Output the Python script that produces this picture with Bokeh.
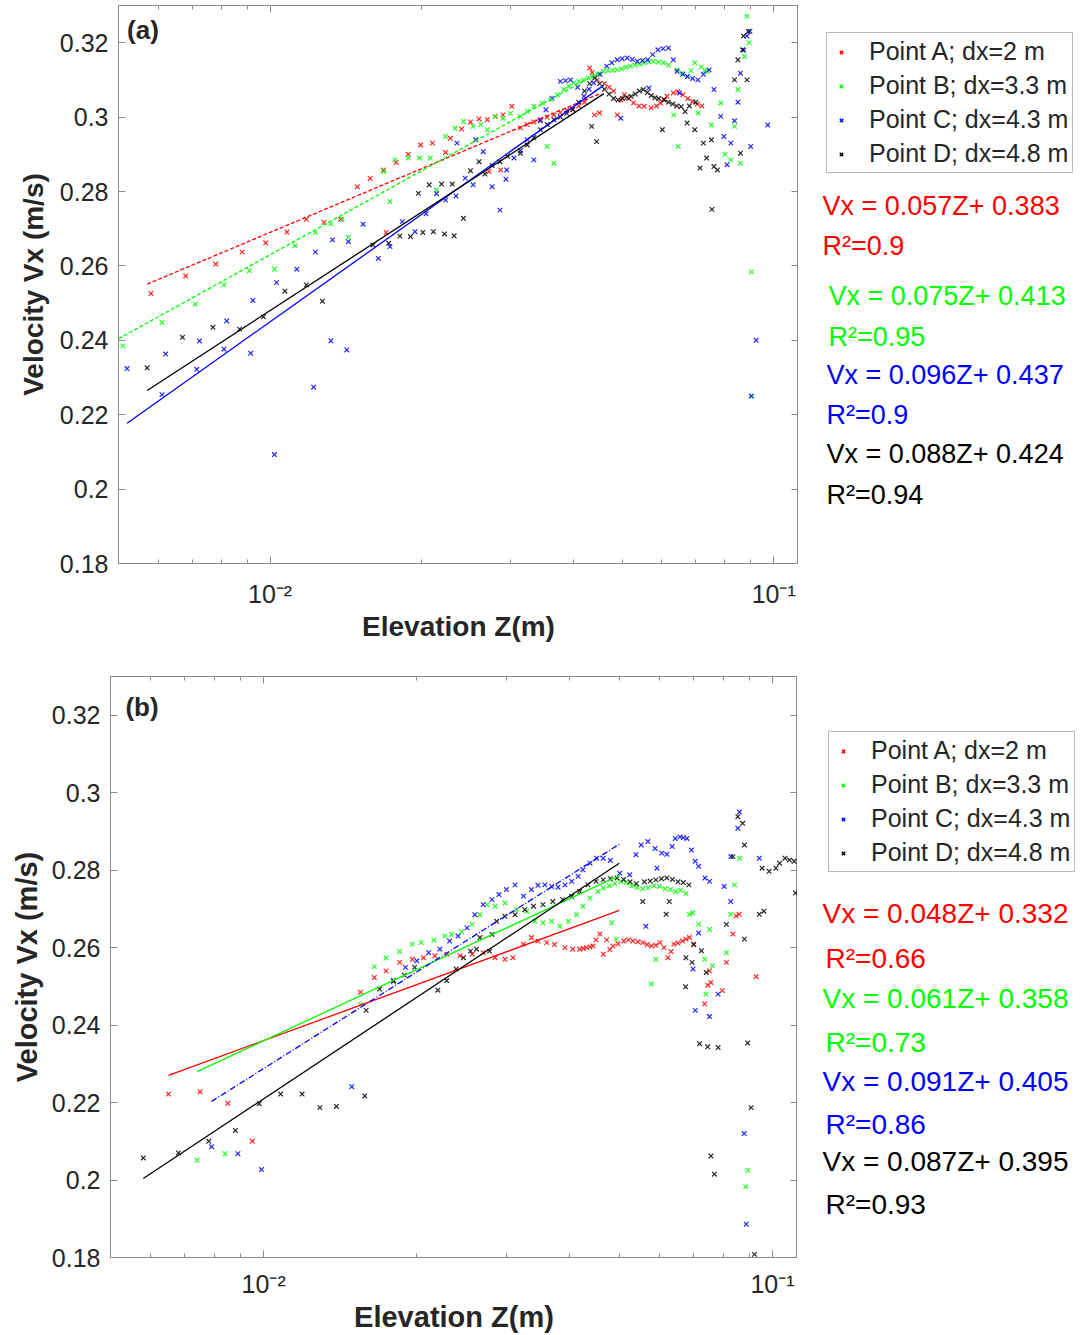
from bokeh.plotting import figure
from bokeh.models import (Range1d, FixedTicker, LogAxis, LinearAxis,
                          CustomJSTickFormatter, Legend, LegendItem, Label)
from bokeh.layouts import column, row
from bokeh.core.properties import value
from bokeh.embed import file_html
from bokeh.resources import INLINE

FONT = "Liberation Sans"
AX_COLOR = "#8a8a8a"
TXT_COLOR = "#262626"
COLORS = ["#ff0000", "#00ff00", "#0000ff", "#000000"]
SERIES_LABELS = ["Point A; dx=2 m", "Point B; dx=3.3 m", "Point C; dx=4.3 m", "Point D; dx=4.8 m"]

Z_LIMITS = [0.005, 0.112]
V_LIMITS = [0.18, 0.33]
X_MAJOR = [0.01, 0.1]
X_TICK_LABELS = ["10\u207b\u00b2", "10\u207b\u00b9"]
X_MINOR = [0.005, 0.006, 0.007, 0.008, 0.009, 0.02, 0.03, 0.04, 0.05, 0.06, 0.07, 0.08, 0.09]
Y_TICKS = [0.18, 0.2, 0.22, 0.24, 0.26, 0.28, 0.3, 0.32]
Y_TICK_LABELS = ["0.18", "0.2", "0.22", "0.24", "0.26", "0.28", "0.3", "0.32"]

# ---------------- panel (a) ----------------
a_red_z = [0.0058, 0.0068, 0.0078, 0.0088, 0.0098, 0.0108, 0.0118, 0.0128, 0.0138, 0.0149,
           0.0158, 0.0168, 0.0170, 0.0178, 0.0188, 0.0199, 0.0210, 0.0223, 0.0228, 0.0240,
           0.0250, 0.0260, 0.0270, 0.0272, 0.0280, 0.0287, 0.0290, 0.0302, 0.0314, 0.0324,
           0.0334, 0.0344, 0.0355, 0.0366, 0.0377, 0.0388, 0.0399, 0.0410, 0.0421, 0.0431,
           0.0436, 0.0441, 0.0446, 0.0451, 0.0461, 0.0471, 0.0481, 0.0489, 0.0497, 0.0505,
           0.0515, 0.0527, 0.0540, 0.0553, 0.0571, 0.0585, 0.0596, 0.0605, 0.0614, 0.0632,
           0.0645, 0.0660, 0.0675, 0.0690, 0.0705, 0.0720]
a_red_v = [0.2526, 0.2573, 0.2605, 0.2637, 0.2662, 0.2691, 0.2725, 0.2717, 0.2725, 0.2813,
           0.2835, 0.2858, 0.2690, 0.2878, 0.2900, 0.2925, 0.2930, 0.2905, 0.2943, 0.2968,
           0.2987, 0.2995, 0.2993, 0.2854, 0.3002, 0.2858, 0.3006, 0.3029, 0.2971, 0.2980,
           0.2987, 0.2993, 0.3000, 0.3006, 0.3012, 0.3018, 0.3022, 0.3030, 0.3040, 0.3132,
           0.3120, 0.3006, 0.3100, 0.3011, 0.3090, 0.3080, 0.3070, 0.3006, 0.3046, 0.3060,
           0.3050, 0.3038, 0.3030, 0.3029, 0.3025, 0.3030, 0.3038, 0.3048, 0.3056, 0.3065,
           0.3068, 0.3060, 0.3050, 0.3042, 0.3035, 0.3030]

a_green_z = [0.0051, 0.0061, 0.0071, 0.0081, 0.0091, 0.0102, 0.0112, 0.0123, 0.0132, 0.0139,
             0.0143, 0.0168, 0.0173, 0.0177, 0.0188, 0.0198, 0.0208, 0.0214, 0.0223, 0.0233,
             0.0242, 0.0253, 0.0262, 0.0270, 0.0280, 0.0290, 0.0300, 0.0314, 0.0324, 0.0334,
             0.0347, 0.0355, 0.0361, 0.0366, 0.0372, 0.0383, 0.0392, 0.0401, 0.0410, 0.0419,
             0.0429, 0.0439, 0.0449, 0.0459, 0.0469, 0.0479, 0.0489, 0.0499, 0.0509, 0.0519,
             0.0530, 0.0541, 0.0552, 0.0565, 0.0577, 0.0590, 0.0604, 0.0618, 0.0633, 0.0643,
             0.0646, 0.0658, 0.0674, 0.0685, 0.0697, 0.0708, 0.0718, 0.0730, 0.0740, 0.0752,
             0.0785, 0.0800, 0.0822, 0.0836, 0.0849, 0.0859, 0.0875, 0.0885, 0.0893, 0.0903,
             0.0905]
a_green_v = [0.2385, 0.2448, 0.2497, 0.2549, 0.2587, 0.2591, 0.2654, 0.2690, 0.2713, 0.2725,
             0.2677, 0.2854, 0.2773, 0.2885, 0.2890, 0.2890, 0.2890, 0.2804, 0.2948, 0.2970,
             0.2988, 0.2975, 0.2980, 0.2966, 0.3002, 0.2997, 0.3010, 0.3002, 0.3015, 0.3029,
             0.3038, 0.2921, 0.3047, 0.2876, 0.3060, 0.3074, 0.3083, 0.3092, 0.3096, 0.3100,
             0.3105, 0.3109, 0.3116, 0.3123, 0.3125, 0.3126, 0.3127, 0.3130, 0.3134, 0.3137,
             0.3140, 0.3143, 0.3146, 0.3148, 0.3150, 0.3148, 0.3146, 0.3140, 0.3006, 0.3127,
             0.2921, 0.3118, 0.3109, 0.3125, 0.3146, 0.3011, 0.3135, 0.3125, 0.3123, 0.2979,
             0.3038, 0.2900, 0.2885, 0.2975, 0.3074, 0.2876, 0.3163, 0.3271, 0.3200, 0.2584,
             0.2250]

a_blue_z = [0.0052, 0.0061, 0.0062, 0.00715, 0.00724, 0.0081, 0.0082, 0.00915, 0.00924, 0.0102,
            0.0103, 0.0113, 0.0122, 0.0123, 0.0132, 0.0133, 0.0142, 0.0143, 0.0153, 0.0164,
            0.0173, 0.0183, 0.0194, 0.0204, 0.0214, 0.0223, 0.0234, 0.0235, 0.0244, 0.0253,
            0.0256, 0.0265, 0.0276, 0.0286, 0.0294, 0.0295, 0.0305, 0.0314, 0.0324, 0.0334,
            0.0344, 0.0353, 0.0363, 0.0377, 0.0386, 0.0395, 0.0408, 0.0420, 0.0430, 0.0439,
            0.0452, 0.0466, 0.0477, 0.0489, 0.0497, 0.0500, 0.0512, 0.0524, 0.0536, 0.0549,
            0.0562, 0.0565, 0.0575, 0.0589, 0.0603, 0.0618, 0.0632, 0.0643, 0.0650, 0.0660,
            0.0674, 0.0690, 0.0707, 0.0725, 0.0744, 0.0761, 0.0785, 0.0796, 0.0808, 0.0822,
            0.0836, 0.0849, 0.0859, 0.0872, 0.0885, 0.0897, 0.0900, 0.0923, 0.0902, 0.0973]
a_blue_v = [0.2324, 0.2254, 0.2363, 0.2322, 0.2398, 0.2376, 0.2452, 0.2365, 0.2507, 0.2093,
            0.2555, 0.2591, 0.2274, 0.2637, 0.2399, 0.2670, 0.2374, 0.2665, 0.2712, 0.2620,
            0.2652, 0.2719, 0.2692, 0.2740, 0.2794, 0.2777, 0.2788, 0.2930, 0.2836, 0.2818,
            0.2939, 0.2907, 0.2813, 0.2750, 0.2833, 0.2858, 0.2890, 0.2910, 0.2939, 0.2885,
            0.2990, 0.3020, 0.3051, 0.3096, 0.3098, 0.3100, 0.3080, 0.3056, 0.3075, 0.3092,
            0.3115, 0.3137, 0.3146, 0.3154, 0.2997, 0.3157, 0.3159, 0.3155, 0.3150, 0.3152,
            0.3154, 0.3078, 0.3168, 0.3181, 0.3184, 0.3186, 0.3154, 0.3123, 0.3065, 0.3115,
            0.3109, 0.3104, 0.3100, 0.3115, 0.3127, 0.3074, 0.3002, 0.2948, 0.2872, 0.2930,
            0.2990, 0.3040, 0.3118, 0.3180, 0.3218, 0.3231, 0.2921, 0.2400, 0.2250, 0.2979]

a_black_z = [0.0057, 0.0067, 0.0077, 0.0087, 0.0097, 0.0107, 0.0118, 0.0127, 0.0160, 0.0172,
             0.0181, 0.0190, 0.0201, 0.0211, 0.0222, 0.0232, 0.0242, 0.0197, 0.0207, 0.0219,
             0.0230, 0.0250, 0.0260, 0.0267, 0.0276, 0.0286, 0.0296, 0.0314, 0.0324, 0.0334,
             0.0344, 0.0355, 0.0366, 0.0377, 0.0388, 0.0399, 0.0410, 0.0421, 0.0431, 0.0435,
             0.0441, 0.0445, 0.0451, 0.0461, 0.0471, 0.0481, 0.0491, 0.0501, 0.0511, 0.0521,
             0.0531, 0.0541, 0.0551, 0.0561, 0.0571, 0.0581, 0.0591, 0.0601, 0.0606, 0.0618,
             0.0630, 0.0642, 0.0655, 0.0667, 0.0673, 0.0680, 0.0697, 0.0700, 0.0714, 0.0725,
             0.0736, 0.0752, 0.0754, 0.0761, 0.0773, 0.0836, 0.0849, 0.0859, 0.0867, 0.0871,
             0.0885, 0.0890]
a_black_v = [0.2326, 0.2408, 0.2435, 0.2430, 0.2463, 0.2532, 0.2549, 0.2505, 0.2656, 0.2661,
             0.2680, 0.2679, 0.2690, 0.2692, 0.2686, 0.2681, 0.2728, 0.2795, 0.2818, 0.2820,
             0.2820, 0.2856, 0.2880, 0.2847, 0.2870, 0.2880, 0.2895, 0.2903, 0.2925, 0.2945,
             0.2966, 0.2980, 0.2993, 0.3000, 0.3010, 0.3020, 0.3040, 0.3070, 0.3090, 0.2975,
             0.3105, 0.2934, 0.3090, 0.3075, 0.3062, 0.3050, 0.3046, 0.3050, 0.3053, 0.3056,
             0.3062, 0.3070, 0.3074, 0.3066, 0.3058, 0.3052, 0.3050, 0.2966, 0.3046, 0.3040,
             0.3035, 0.3030, 0.3028, 0.3015, 0.2984, 0.3030, 0.2966, 0.3040, 0.2863, 0.2930,
             0.2890, 0.2939, 0.2752, 0.2867, 0.2858, 0.3100, 0.3154, 0.2903, 0.3181, 0.3218,
             0.3100, 0.3230]

# fitted lines, panel (a): end points (Z, Vx)
fit_a_z0 = [0.0057, 0.0050, 0.0052, 0.0057]
fit_a_z1 = [0.045, 0.045, 0.046, 0.046]
fit_a_v0 = [0.2551, 0.2404, 0.2177, 0.2265]
fit_a_v1 = [0.3062, 0.3120, 0.3086, 0.3063]

eq_a = ["Vx = 0.057Z+ 0.383", "Vx = 0.075Z+ 0.413", "Vx = 0.096Z+ 0.437", "Vx = 0.088Z+ 0.424"]
r2_a = ["R\u00b2=0.9", "R\u00b2=0.95", "R\u00b2=0.9", "R\u00b2=0.94"]

# ---------------- panel (b) ----------------
b_red_z = [0.0065, 0.0075, 0.0085, 0.0095, 0.0155, 0.0165, 0.0174, 0.0185, 0.0196, 0.0206,
           0.0217, 0.0229, 0.0243, 0.0257, 0.0270, 0.0285, 0.0298, 0.0309, 0.0324, 0.0336,
           0.0346, 0.0360, 0.0373, 0.0391, 0.0405, 0.0418, 0.0425, 0.0431, 0.0438, 0.0444,
           0.0450, 0.0458, 0.0465, 0.0472, 0.0479, 0.0486, 0.0497, 0.0510, 0.0521, 0.0532,
           0.0544, 0.0556, 0.0567, 0.0578, 0.0590, 0.0601, 0.0612, 0.0623, 0.0632, 0.0640,
           0.0652, 0.0665, 0.0676, 0.0687, 0.0700, 0.0736, 0.0746, 0.0752, 0.0757, 0.0797,
           0.0812, 0.0836, 0.0848, 0.0860, 0.0929]
b_red_v = [0.2222, 0.2228, 0.2198, 0.2100, 0.2485, 0.2523, 0.2540, 0.2562, 0.2570, 0.2574,
           0.2579, 0.2583, 0.2579, 0.2583, 0.2587, 0.2574, 0.2570, 0.2574, 0.2609, 0.2626,
           0.2617, 0.2613, 0.2608, 0.2600, 0.2596, 0.2596, 0.2598, 0.2600, 0.2602, 0.2604,
           0.2620, 0.2635, 0.2583, 0.2620, 0.2595, 0.2604, 0.2610, 0.2617, 0.2620, 0.2617,
           0.2615, 0.2613, 0.2608, 0.2604, 0.2606, 0.2613, 0.2600, 0.2574, 0.2590, 0.2609,
           0.2612, 0.2617, 0.2622, 0.2626, 0.2609, 0.2455, 0.2503, 0.2540, 0.2510, 0.2489,
           0.2562, 0.2635, 0.2682, 0.2686, 0.2525]

b_green_z = [0.0074, 0.0084, 0.0155, 0.0165, 0.0174, 0.0185, 0.0196, 0.0204, 0.0216, 0.0227,
             0.0234, 0.0245, 0.0257, 0.0266, 0.0275, 0.0285, 0.0298, 0.0314, 0.0329, 0.0341,
             0.0354, 0.0368, 0.0382, 0.0397, 0.0412, 0.0424, 0.0438, 0.0454, 0.0465, 0.0478,
             0.0483, 0.0490, 0.0493, 0.0503, 0.0516, 0.0529, 0.0542, 0.0556, 0.0570, 0.0578,
             0.0585, 0.0590, 0.0600, 0.0615, 0.0630, 0.0645, 0.0660, 0.0676, 0.0687, 0.0697,
             0.0716, 0.0736, 0.0740, 0.0752, 0.0762, 0.0812, 0.0828, 0.0842, 0.0861, 0.0886,
             0.0894]
b_green_v = [0.2051, 0.2068, 0.2453, 0.2551, 0.2573, 0.2590, 0.2609, 0.2613, 0.2619, 0.2630,
             0.2634, 0.2641, 0.2660, 0.2685, 0.2711, 0.2707, 0.2715, 0.2698, 0.2694, 0.2668,
             0.2664, 0.2668, 0.2655, 0.2668, 0.2685, 0.2707, 0.2728, 0.2745, 0.2754, 0.2760,
             0.2664, 0.2765, 0.2622, 0.2770, 0.2768, 0.2760, 0.2755, 0.2752, 0.2755, 0.2506,
             0.2760, 0.2570, 0.2758, 0.2752, 0.2750, 0.2745, 0.2748, 0.2740, 0.2686, 0.2690,
             0.2660, 0.2570, 0.2480, 0.2647, 0.2553, 0.2587, 0.2686, 0.2762, 0.2831, 0.1983,
             0.2025]

b_blue_z = [0.0079, 0.0089, 0.0099, 0.0149, 0.0180, 0.0190, 0.0200, 0.0211, 0.0222, 0.0232,
            0.0241, 0.0251, 0.0260, 0.0270, 0.0281, 0.0290, 0.0300, 0.0312, 0.0324, 0.0336,
            0.0346, 0.0357, 0.0368, 0.0379, 0.0391, 0.0403, 0.0415, 0.0424, 0.0438, 0.0451,
            0.0465, 0.0480, 0.0501, 0.0524, 0.0539, 0.0552, 0.0564, 0.0569, 0.0588, 0.0593,
            0.0606, 0.0620, 0.0635, 0.0644, 0.0658, 0.0668, 0.0679, 0.0693, 0.0698, 0.0705,
            0.0705, 0.0716, 0.0716, 0.0737, 0.0752, 0.0752, 0.0782, 0.0804, 0.0828, 0.0828,
            0.0855, 0.0861, 0.0880, 0.0888, 0.0942]
b_blue_v = [0.2086, 0.2068, 0.2027, 0.2241, 0.2515, 0.2549, 0.2566, 0.2587, 0.2596, 0.2617,
            0.2630, 0.2651, 0.2685, 0.2711, 0.2724, 0.2737, 0.2750, 0.2762, 0.2733, 0.2750,
            0.2761, 0.2762, 0.2758, 0.2756, 0.2762, 0.2771, 0.2784, 0.2801, 0.2818, 0.2831,
            0.2831, 0.2825, 0.2792, 0.2788, 0.2840, 0.2865, 0.2655, 0.2874, 0.2856, 0.2805,
            0.2844, 0.2841, 0.2861, 0.2882, 0.2886, 0.2884, 0.2882, 0.2852, 0.2545, 0.2823,
            0.2438, 0.2810, 0.2638, 0.2780, 0.2771, 0.2422, 0.2480, 0.2758, 0.2719, 0.2835,
            0.2908, 0.2950, 0.2120, 0.1886, 0.2831]

b_black_z = [0.0058, 0.0068, 0.0078, 0.0088, 0.0098, 0.0108, 0.0119, 0.0129, 0.0139, 0.0158,
             0.0159, 0.0169, 0.0180, 0.0189, 0.0198, 0.0220, 0.0229, 0.0239, 0.0247, 0.0255,
             0.0262, 0.0266, 0.0278, 0.0281, 0.0287, 0.0298, 0.0312, 0.0326, 0.0339, 0.0354,
             0.0370, 0.0387, 0.0403, 0.0418, 0.0434, 0.0450, 0.0465, 0.0480, 0.0495, 0.0510,
             0.0525, 0.0540, 0.0556, 0.0560, 0.0575, 0.0590, 0.0605, 0.0618, 0.0620, 0.0627,
             0.0636, 0.0652, 0.0668, 0.0675, 0.0676, 0.0685, 0.0695, 0.0700, 0.0719, 0.0725,
             0.0741, 0.0746, 0.0757, 0.0769, 0.0782, 0.0812, 0.0836, 0.0855, 0.0874, 0.0881,
             0.0881, 0.0894, 0.0908, 0.0922, 0.0942, 0.0954, 0.0962, 0.0985, 0.1016, 0.1033,
             0.1058, 0.1080, 0.1103, 0.1110]
b_black_v = [0.2057, 0.2070, 0.2100, 0.2128, 0.2197, 0.2222, 0.2222, 0.2187, 0.2190, 0.2217,
             0.2438, 0.2493, 0.2513, 0.2529, 0.2549, 0.2490, 0.2515, 0.2545, 0.2574, 0.2591,
             0.2596, 0.2626, 0.2591, 0.2634, 0.2668, 0.2681, 0.2685, 0.2698, 0.2707, 0.2711,
             0.2719, 0.2724, 0.2732, 0.2745, 0.2762, 0.2771, 0.2775, 0.2778, 0.2780, 0.2776,
             0.2770, 0.2765, 0.2719, 0.2770, 0.2772, 0.2775, 0.2778, 0.2686, 0.2780, 0.2719,
             0.2776, 0.2770, 0.2768, 0.2499, 0.2574, 0.2762, 0.2562, 0.2608, 0.2352, 0.2592,
             0.2536, 0.2344, 0.2062, 0.2015, 0.2342, 0.2660, 0.2835, 0.2938, 0.2921, 0.2865,
             0.2622, 0.2354, 0.2187, 0.1808, 0.2686, 0.2805, 0.2694, 0.2797, 0.2805, 0.2818,
             0.2831, 0.2826, 0.2823, 0.2741]

fit_b_z0 = [0.0065, 0.0074, 0.0079, 0.0058]
fit_b_z1 = [0.050, 0.050, 0.050, 0.050]
fit_b_v0 = [0.2270, 0.2280, 0.2203, 0.2004]
fit_b_v1 = [0.2696, 0.2786, 0.2867, 0.2818]

eq_b = ["Vx = 0.048Z+ 0.332", "Vx = 0.061Z+ 0.358", "Vx = 0.091Z+ 0.405", "Vx = 0.087Z+ 0.395"]
r2_b = ["R\u00b2=0.66", "R\u00b2=0.73", "R\u00b2=0.86", "R\u00b2=0.93"]

X_LABEL = "Elevation Z(m)"
Y_LABEL = "Velocity Vx (m/s)"


def label_formatter(tick_values, tick_labels):
    code = """
    for (let i = 0; i < tv.length; i++) {
        if (Math.abs(tick - tv[i]) <= 1e-6 * Math.abs(tv[i])) { return labs[i]; }
    }
    return '';
    """
    return CustomJSTickFormatter(args=dict(tv=tick_values, labs=tick_labels), code=code)


def style_axis(ax, tick_px, show=True, standoff=10):
    ax.axis_line_color = AX_COLOR
    ax.major_tick_line_color = AX_COLOR
    ax.minor_tick_line_color = AX_COLOR
    ax.major_tick_in = 7
    ax.major_tick_out = 0
    ax.minor_tick_in = 4
    ax.minor_tick_out = 0
    ax.major_label_text_font = FONT
    ax.major_label_text_color = TXT_COLOR
    ax.major_label_text_font_size = tick_px if show else "0px"
    ax.major_label_standoff = standoff if show else 0


def build_main(series_z, series_v, fz0, fz1, fv0, fv1, dashes, tag, tag_x, tag_y,
               left, top, frame_w, frame_h, bottom, tick_px, label_px, x_standoff, ylab_standoff):
    p = figure(width=left + frame_w, height=top + frame_h + bottom,
               x_axis_type="log",
               x_range=Range1d(Z_LIMITS[0], Z_LIMITS[1]),
               y_range=Range1d(V_LIMITS[0], V_LIMITS[1]),
               output_backend="svg", toolbar_location=None,
               min_border_left=left, min_border_right=0,
               min_border_top=top, min_border_bottom=bottom)
    p.grid.visible = False
    p.outline_line_color = AX_COLOR
    p.background_fill_color = "white"
    p.border_fill_color = "white"

    xt = FixedTicker(ticks=X_MAJOR, minor_ticks=X_MINOR)
    yt = FixedTicker(ticks=Y_TICKS)
    blank = CustomJSTickFormatter(code="return '';")

    xax = p.xaxis[0]
    xax.ticker = xt
    xax.formatter = label_formatter(X_MAJOR, X_TICK_LABELS)
    style_axis(xax, tick_px, True, x_standoff)
    xax.axis_label = X_LABEL
    xax.axis_label_text_font = FONT
    xax.axis_label_text_font_style = "bold"
    xax.axis_label_text_font_size = label_px
    xax.axis_label_text_color = TXT_COLOR
    xax.axis_label_standoff = 0

    yax = p.yaxis[0]
    yax.ticker = yt
    yax.formatter = label_formatter(Y_TICKS, Y_TICK_LABELS)
    style_axis(yax, tick_px, True, 10)
    yax.axis_label = Y_LABEL
    yax.axis_label_text_font = FONT
    yax.axis_label_text_font_style = "bold"
    yax.axis_label_text_font_size = label_px
    yax.axis_label_text_color = TXT_COLOR
    yax.axis_label_standoff = ylab_standoff

    top_ax = LogAxis(ticker=xt, formatter=blank)
    style_axis(top_ax, tick_px, False)
    p.add_layout(top_ax, "above")
    right_ax = LinearAxis(ticker=yt, formatter=blank)
    style_axis(right_ax, tick_px, False)
    p.add_layout(right_ax, "right")

    for z, v, c in zip(series_z, series_v, COLORS):
        assert len(z) == len(v)
        p.scatter(x=z, y=v, marker="x", size=6.5, line_color=c, line_width=1.2, line_alpha=0.85)

    for i, c in enumerate(COLORS):
        p.line(x=[fz0[i], fz1[i]], y=[fv0[i], fv1[i]], line_color=c, line_width=1.3,
               line_dash=dashes[i])

    p.add_layout(Label(x=tag_x, y=tag_y, text=tag, text_font=FONT, text_font_style="bold",
                       text_font_size="26px", text_color=TXT_COLOR, text_baseline="middle",
                       text_align="left"))
    return p


def build_side(x0, width, top, frame_h, bottom, frame_top_y, leg_left, leg_top, leg_px,
               eqs, r2s, eq_x, eq_y, r2_x, r2_y, eq_px):
    # The side panel's frame is aligned with the main frame; its ranges are
    # expressed in page pixels so the annotations sit where the reference has them.
    frame_bottom_y = frame_top_y + frame_h
    s = figure(width=width, height=top + frame_h + bottom,
               x_range=Range1d(x0, x0 + width),
               y_range=Range1d(frame_bottom_y, frame_top_y),
               output_backend="svg", toolbar_location=None,
               min_border_left=0, min_border_right=0,
               min_border_top=top, min_border_bottom=bottom,
               x_axis_location=None, y_axis_location=None)
    s.grid.visible = False
    s.outline_line_color = None
    items = []
    for c, lab in zip(COLORS, SERIES_LABELS):
        r = s.scatter(x=[-1e4], y=[-1e4], marker="x", size=6, line_color=c, line_width=1.5)
        items.append(LegendItem(label=lab, renderers=[r]))
    leg_h = 4 + 4 * 28 + 3 * 5 + 4
    leg = Legend(items=items,
                 location=(leg_left - x0, frame_bottom_y - (leg_top + leg_h)),
                 label_text_font=FONT, label_text_font_size=leg_px, label_text_color=TXT_COLOR,
                 label_height=28, glyph_height=12, glyph_width=20, label_standoff=18,
                 spacing=5, padding=4, margin=0,
                 border_line_color="#7a7a7a", border_line_width=1,
                 background_fill_color="white", background_fill_alpha=1)
    s.add_layout(leg)
    s.text(x=eq_x, y=eq_y, text=eqs, text_color=COLORS, text_font=value(FONT),
           text_font_size=eq_px, text_baseline="middle", text_align="left")
    s.text(x=r2_x, y=r2_y, text=r2s, text_color=COLORS, text_font=value(FONT),
           text_font_size=eq_px, text_baseline="middle", text_align="left")
    return s


# panel (a): frame x 118..798, y 5..563
fa = build_main([a_red_z, a_green_z, a_blue_z, a_black_z],
                [a_red_v, a_green_v, a_blue_v, a_black_v],
                fit_a_z0, fit_a_z1, fit_a_v0, fit_a_v1,
                ["4 2", "4 2", "solid", "solid"], "(a)", 0.0052, 0.3235,
                left=118, top=5, frame_w=680, frame_h=558, bottom=92,
                tick_px="25px", label_px="28px", x_standoff=16, ylab_standoff=8)
sa = build_side(798, 282, 5, 558, 92, 5, 826, 38, "25px", eq_a, r2_a,
                [822, 828, 826, 826], [205, 295, 374, 453],
                [822, 828, 826, 826], [245, 336, 414, 494], "27px")

# panel (b): frame x 110..797, y 676..1262
fb = build_main([b_red_z, b_green_z, b_blue_z, b_black_z],
                [b_red_v, b_green_v, b_blue_v, b_black_v],
                fit_b_z0, fit_b_z1, fit_b_v0, fit_b_v1,
                ["solid", "solid", "6 2 1 2", "solid"], "(b)", 0.00535, 0.322,
                left=110, top=21, frame_w=687, frame_h=586, bottom=73,
                tick_px="25px", label_px="29px", x_standoff=12, ylab_standoff=6)
sb = build_side(797, 283, 21, 586, 73, 676, 828, 742, "25px", eq_b, r2_b,
                [822, 822, 822, 822], [915, 1001, 1084, 1165],
                [825, 825, 825, 825], [960, 1045, 1128, 1209], "28px")

layout = column(row(fa, sa), row(fb, sb))
open("out.html", "w").write(file_html(layout, INLINE))
